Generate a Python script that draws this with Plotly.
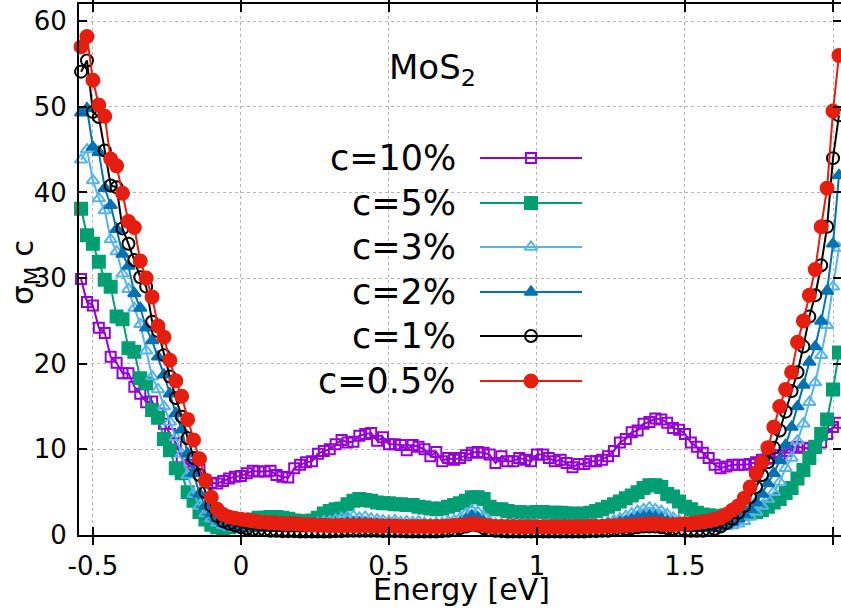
import plotly.graph_objects as go

# ---------------- data ----------------
ENERGY = [-0.54, -0.52, -0.50, -0.48, -0.46, -0.44, -0.42, -0.40, -0.38, -0.36,
          -0.34, -0.32, -0.30, -0.28, -0.26, -0.24, -0.22, -0.20, -0.18, -0.16,
          -0.14, -0.12, -0.10, -0.08, -0.06, -0.04, -0.02, 0.00, 0.02, 0.04,
          0.06, 0.08, 0.10, 0.12, 0.14, 0.16, 0.18, 0.20, 0.22, 0.24,
          0.26, 0.28, 0.30, 0.32, 0.34, 0.36, 0.38, 0.40, 0.42, 0.44,
          0.46, 0.48, 0.50, 0.52, 0.54, 0.56, 0.58, 0.60, 0.62, 0.64,
          0.66, 0.68, 0.70, 0.72, 0.74, 0.76, 0.78, 0.80, 0.82, 0.84,
          0.86, 0.88, 0.90, 0.92, 0.94, 0.96, 0.98, 1.00, 1.02, 1.04,
          1.06, 1.08, 1.10, 1.12, 1.14, 1.16, 1.18, 1.20, 1.22, 1.24,
          1.26, 1.28, 1.30, 1.32, 1.34, 1.36, 1.38, 1.40, 1.42, 1.44,
          1.46, 1.48, 1.50, 1.52, 1.54, 1.56, 1.58, 1.60, 1.62, 1.64,
          1.66, 1.68, 1.70, 1.72, 1.74, 1.76, 1.78, 1.80, 1.82, 1.84,
          1.86, 1.88, 1.90, 1.92, 1.94, 1.96, 1.98, 2.00, 2.02]

C10 = [29.9, 27.2, 26.8, 24.2, 23.6, 20.8, 20.1, 18.9, 18.9, 17.3,
       16.5, 15.5, 15.6, 14.2, 13.0, 11.8, 10.7, 9.0, 8.2, 7.8,
       7.6, 6.4, 6.1, 6.0, 6.3, 6.6, 6.8, 6.9, 7.2, 7.5,
       7.4, 7.4, 7.5, 7.0, 6.8, 6.7, 7.8, 8.2, 8.5, 8.6,
       9.5, 9.8, 10.0, 10.6, 11.1, 10.8, 10.9, 11.6, 11.8, 11.9,
       11.0, 11.4, 10.6, 10.6, 10.5, 9.9, 10.5, 10.3, 10.0, 9.2,
       9.7, 8.6, 9.0, 8.8, 9.0, 9.3, 9.6, 9.7, 9.6, 9.4,
       8.4, 9.2, 8.6, 8.6, 9.0, 8.8, 8.6, 9.4, 9.4, 9.0,
       8.6, 8.8, 8.4, 7.9, 8.3, 8.3, 8.6, 8.6, 8.8, 9.2,
       9.8, 10.8, 11.2, 12.0, 12.2, 13.0, 13.2, 13.6, 13.5, 13.1,
       12.5, 12.3, 11.8, 10.8, 10.3, 9.6, 9.0, 8.2, 7.8, 8.0,
       8.2, 8.2, 8.2, 8.3, 8.5, 8.8, 8.9, 9.0, 9.3, 9.8,
       10.2, 10.3, 10.2, 10.1, 10.2, 10.8, 11.8, 12.6, 13.1]

C5 = [38.1, 35.0, 34.0, 31.9, 29.8, 29.0, 25.5, 25.2, 21.8, 21.4,
      18.3, 17.7, 14.6, 13.7, 11.2, 9.9, 7.8, 7.2, 5.0, 4.0,
      2.7, 1.8, 1.2, 0.9, 0.8, 0.9, 1.1, 1.3, 1.6, 1.8,
      2.0, 2.0, 2.1, 2.1, 2.0, 1.9, 1.7, 1.6, 1.6, 1.7,
      2.0, 2.5, 2.8, 3.0, 3.1, 3.6, 4.0, 4.2, 4.1, 4.0,
      3.8, 3.7, 3.7, 3.6, 3.6, 3.5, 3.5, 3.3, 3.2, 3.1,
      3.0, 3.1, 3.3, 3.5, 3.7, 4.0, 4.4, 4.4, 4.2, 3.3,
      3.0, 3.0, 2.8, 2.7, 2.7, 2.6, 2.6, 2.7, 2.7, 2.6,
      2.6, 2.6, 2.5, 2.5, 2.4, 2.5, 2.6, 2.8, 3.0, 3.3,
      3.6, 3.9, 4.3, 4.6, 5.0, 5.5, 5.8, 5.8, 5.6, 4.8,
      4.5, 3.9, 3.3, 3.0, 2.6, 2.4, 2.3, 2.2, 2.2, 2.3,
      2.4, 2.5, 2.5, 2.6, 2.7, 2.9, 3.3, 3.8, 4.2, 4.9,
      5.5, 6.6, 7.6, 9.0, 10.3, 11.8, 13.5, 17.0, 21.3]

C3 = [43.8, 45.0, 41.4, 39.3, 37.9, 34.5, 33.1, 30.5, 28.7, 26.5,
      24.6, 21.5, 18.5, 17.0, 15.0, 13.2, 11.4, 9.5, 7.0, 4.8,
      3.4, 2.5, 1.9, 1.4, 1.1, 0.9, 0.8, 0.8, 0.8, 0.8,
      0.8, 0.9, 0.9, 0.9, 1.0, 1.0, 1.1, 1.2, 1.3, 1.3,
      1.4, 1.6, 1.6, 1.8, 2.0, 2.1, 2.2, 2.0, 2.1, 1.9,
      1.8, 1.7, 1.6, 1.7, 1.5, 1.6, 1.5, 1.6, 1.4, 1.3,
      1.4, 1.4, 1.6, 1.7, 2.0, 2.5, 2.9, 2.7, 2.2, 1.6,
      1.3, 1.3, 1.2, 1.3, 1.2, 1.2, 1.2, 1.2, 1.1, 1.2,
      1.1, 1.1, 1.1, 1.1, 1.0, 1.1, 1.2, 1.2, 1.3, 1.5,
      1.7, 1.9, 2.2, 2.5, 2.8, 3.0, 3.2, 3.0, 2.8, 2.4,
      2.0, 1.7, 1.3, 1.1, 0.9, 0.8, 0.8, 0.8, 0.9, 1.0,
      1.1, 1.3, 1.6, 2.1, 2.7, 3.4, 4.2, 5.0, 6.2, 7.8,
      9.0, 11.0, 13.0, 15.5, 17.8, 21.0, 24.5, 29.0, 33.5]

C2 = [49.3, 49.8, 45.3, 44.7, 40.5, 38.5, 35.7, 32.8, 31.4, 28.2,
      26.5, 24.2, 22.7, 20.8, 18.7, 16.5, 14.2, 12.3, 9.5, 7.2,
      4.8, 3.4, 2.5, 1.9, 1.4, 1.1, 0.95, 0.85, 0.8, 0.8,
      0.8, 0.8, 0.8, 0.8, 0.85, 0.85, 0.9, 0.9, 0.95, 1.0,
      1.0, 1.1, 1.1, 1.2, 1.3, 1.4, 1.4, 1.4, 1.4, 1.3,
      1.3, 1.2, 1.2, 1.2, 1.1, 1.1, 1.1, 1.1, 1.0, 1.0,
      1.0, 1.0, 1.1, 1.2, 1.4, 1.8, 2.2, 2.0, 1.6, 1.2,
      1.0, 1.0, 0.95, 0.95, 0.95, 0.9, 0.95, 0.95, 0.9, 0.95,
      0.9, 0.9, 0.95, 0.95, 0.95, 1.0, 1.0, 1.0, 1.1, 1.2,
      1.3, 1.5, 1.6, 1.8, 2.0, 2.1, 2.2, 2.1, 1.9, 1.6,
      1.4, 1.2, 1.0, 0.9, 0.8, 0.8, 0.8, 0.9, 1.0, 1.2,
      1.5, 1.9, 2.4, 3.0, 3.8, 4.8, 6.0, 7.2, 8.7, 10.5,
      12.6, 15.0, 17.5, 20.2, 22.0, 25.0, 28.5, 34.0, 42.0]

C1 = [54.1, 55.4, 49.4, 48.8, 44.9, 40.8, 40.6, 35.8, 34.0, 32.1,
      30.1, 29.0, 24.9, 23.8, 21.0, 18.5, 16.0, 13.8, 11.3, 9.0,
      7.0, 5.0, 3.4, 2.2, 1.6, 1.3, 1.1, 0.9, 0.75, 0.65,
      0.6, 0.55, 0.5, 0.5, 0.45, 0.45, 0.45, 0.4, 0.4, 0.4,
      0.4, 0.4, 0.4, 0.45, 0.45, 0.5, 0.5, 0.5, 0.5, 0.5,
      0.5, 0.45, 0.45, 0.45, 0.45, 0.4, 0.4, 0.4, 0.4, 0.4,
      0.4, 0.45, 0.5, 0.6, 0.8, 1.0, 1.2, 1.1, 0.8, 0.6,
      0.5, 0.45, 0.4, 0.4, 0.4, 0.4, 0.4, 0.4, 0.4, 0.4,
      0.4, 0.4, 0.4, 0.4, 0.4, 0.4, 0.45, 0.45, 0.5, 0.5,
      0.6, 0.6, 0.7, 0.8, 0.9, 1.0, 1.0, 1.0, 0.9, 0.8,
      0.7, 0.6, 0.5, 0.5, 0.5, 0.5, 0.6, 0.7, 1.0, 1.4,
      1.9, 2.6, 3.4, 4.4, 5.6, 7.0, 8.5, 10.2, 12.2, 14.4,
      16.8, 19.0, 22.0, 25.5, 28.0, 31.5, 36.0, 44.0, 49.0]

C05 = [57.0, 58.2, 53.1, 50.2, 48.9, 43.9, 43.1, 39.9, 36.6, 35.9,
       32.0, 30.0, 27.8, 24.4, 23.1, 20.4, 18.0, 16.2, 13.5, 11.1,
       8.9, 6.4, 4.4, 3.0, 2.4, 2.1, 1.95, 1.85, 1.75, 1.65,
       1.55, 1.5, 1.45, 1.4, 1.35, 1.3, 1.3, 1.25, 1.2, 1.2,
       1.15, 1.15, 1.1, 1.1, 1.1, 1.1, 1.1, 1.1, 1.1, 1.1,
       1.05, 1.05, 1.05, 1.05, 1.0, 1.0, 1.0, 1.0, 1.0, 1.0,
       1.0, 1.0, 1.05, 1.1, 1.15, 1.2, 1.3, 1.25, 1.15, 1.05,
       1.0, 1.0, 1.0, 1.0, 0.95, 0.95, 0.95, 0.95, 0.95, 0.95,
       0.95, 0.95, 0.95, 0.95, 0.95, 0.95, 1.0, 1.0, 1.0, 1.05,
       1.05, 1.1, 1.1, 1.15, 1.2, 1.25, 1.3, 1.3, 1.25, 1.2,
       1.2, 1.25, 1.3, 1.35, 1.45, 1.55, 1.65, 1.8, 2.0, 2.4,
       2.9, 3.4, 4.3, 5.6, 7.2, 8.5, 10.2, 12.6, 15.0, 17.0,
       19.0, 22.5, 25.0, 28.0, 31.0, 36.0, 40.5, 49.5, 56.0]

LABELS = ["c=10%", "c=5%", "c=3%", "c=2%", "c=1%", "c=0.5%"]
SERIES = [C10, C5, C3, C2, C1, C05]
COLORS = ["#9400D3", "#009E73", "#56B4E9", "#0072B2", "#000000", "#E51E10"]
SYMBOLS = ["square-open", "square", "triangle-up-open", "triangle-up", "circle-open", "circle"]
SIZES = [10, 12, 11, 11, 12, 13]

XTICKS = [-0.5, 0, 0.5, 1, 1.5, 2]
XTICKTEXT = ["-0.5", "0", "0.5", "1", "1.5", "2"]
YTICKS = [0, 10, 20, 30, 40, 50, 60]

# ---------------- layout geometry ----------------
W, H = 841, 612
ML, MR, MT, MB = 79, 0, 4, 77
PW, PH = W - ML - MR, H - MT - MB
FONT = "DejaVu Sans"


def px_x(p):
    return (p - ML) / PW


def px_y(p):
    return 1 - (p - MT) / PH


fig = go.Figure()

for lab, ys, col, sym, sz in zip(LABELS, SERIES, COLORS, SYMBOLS, SIZES):
    fig.add_trace(go.Scatter(
        x=ENERGY, y=ys, mode="lines+markers", name=lab, showlegend=False,
        line=dict(color=col, width=2),
        marker=dict(symbol=sym, size=sz, color=col, line=dict(color=col, width=2)),
        cliponaxis=False,
    ))

# right-side mirrored ticks (no line)
fig.add_trace(go.Scatter(x=[None], y=[None], yaxis="y2", showlegend=False))

# manual gnuplot-style legend (text left, sample right) in pixel space
ROW_Y = [158, 203, 247, 292, 336, 381]
for lab, col, sym, sz, ry in zip(LABELS, COLORS, SYMBOLS, SIZES, ROW_Y):
    fig.add_trace(go.Scatter(
        x=[480, 582], y=[ry, ry], mode="lines", xaxis="x3", yaxis="y3",
        line=dict(color=col, width=2), showlegend=False, hoverinfo="skip",
    ))
    fig.add_trace(go.Scatter(
        x=[531], y=[ry], mode="markers", xaxis="x3", yaxis="y3",
        marker=dict(symbol=sym, size=sz, color=col, line=dict(color=col, width=2)),
        showlegend=False, hoverinfo="skip",
    ))
    fig.add_annotation(
        x=px_x(458), y=px_y(ry), xref="paper", yref="paper",
        text=lab, showarrow=False, xanchor="right", yanchor="middle",
        font=dict(family=FONT, size=35, color="black"),
    )

axis_common = dict(
    ticks="inside", ticklen=8, tickwidth=1.5, tickcolor="black",
    showline=True, linewidth=2, linecolor="black",
    showgrid=True, gridcolor="#b4b4b4", griddash="dot", gridwidth=1,
    zeroline=False, tickfont=dict(family=FONT, size=26, color="black"),
)

fig.update_layout(
    width=W, height=H, margin=dict(l=ML, r=MR, t=MT, b=MB),
    paper_bgcolor="white", plot_bgcolor="white",
    font=dict(family=FONT, color="black"),
    xaxis=dict(range=[-0.547, 2.027], tickvals=XTICKS, ticktext=XTICKTEXT,
               mirror="allticks", ticklabelstandoff=7, **axis_common),
    yaxis=dict(range=[0, 62], tickvals=YTICKS, ticklabelstandoff=5, **axis_common),
    yaxis2=dict(range=[0, 62], tickvals=YTICKS, overlaying="y", side="right",
                ticks="inside", ticklen=8, tickwidth=1.5, tickcolor="black",
                showticklabels=False, showgrid=False, showline=False, zeroline=False),
    xaxis3=dict(range=[ML, W - MR], overlaying="x", anchor="y3", visible=False,
                showgrid=False, zeroline=False),
    yaxis3=dict(range=[H - MB, MT], overlaying="y", anchor="x3", visible=False,
                showgrid=False, zeroline=False),
    showlegend=False,
)

# axis titles and plot title
fig.add_annotation(x=px_x(462), y=px_y(589), xref="paper", yref="paper",
                   text="Energy [eV]", showarrow=False, xanchor="center", yanchor="middle",
                   font=dict(family=FONT, size=30, color="black"))
fig.add_annotation(x=px_x(24), y=px_y(272), xref="paper", yref="paper",
                   text="σ<sub>M</sub> c", showarrow=False, textangle=-90,
                   xanchor="center", yanchor="middle",
                   font=dict(family=FONT, size=31, color="black"))
fig.add_annotation(x=px_x(432), y=px_y(70), xref="paper", yref="paper",
                   text="MoS<sub>2</sub>", showarrow=False, xanchor="center", yanchor="middle",
                   font=dict(family=FONT, size=34, color="black"))

fig.write_html("out.html")
